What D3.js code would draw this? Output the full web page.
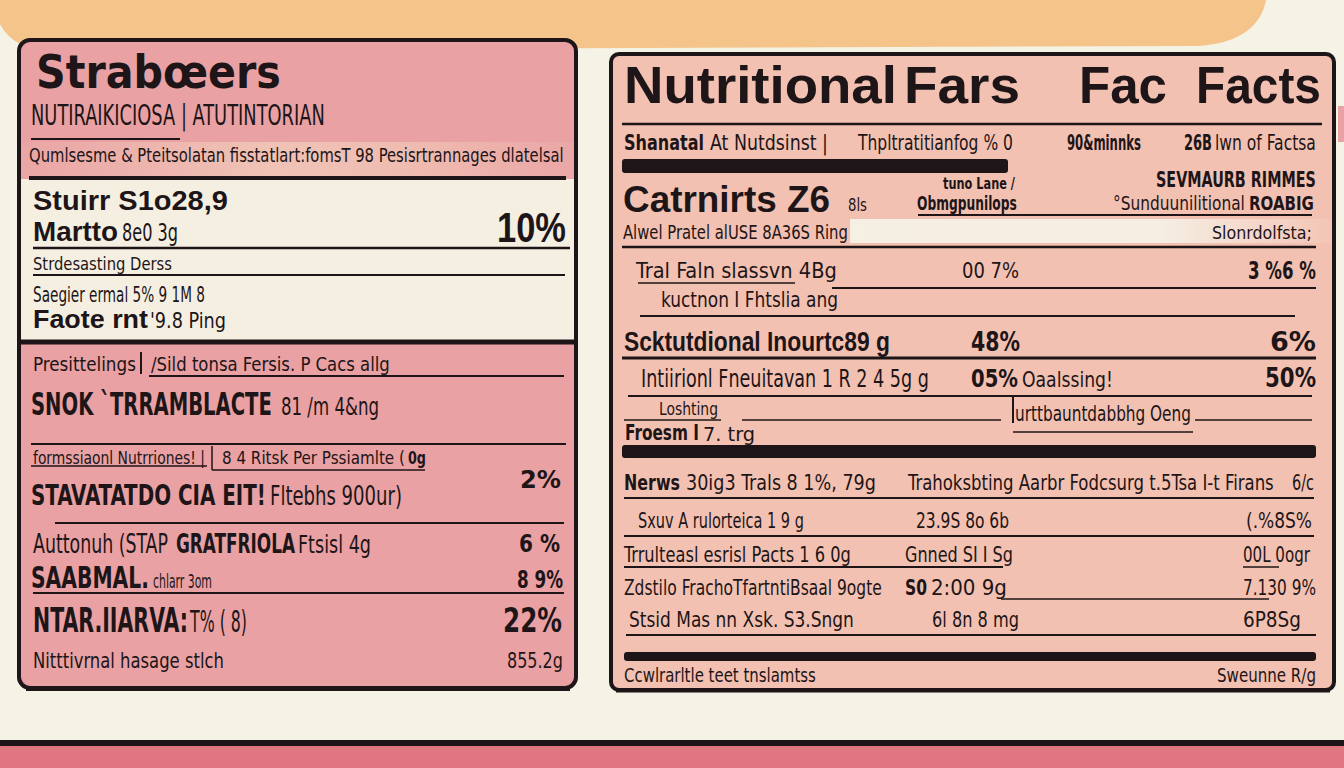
<!DOCTYPE html>
<html>
<head>
<meta charset="utf-8">
<script src="https://cdn.jsdelivr.net/npm/d3@7"></script>
<style>
  html, body { margin: 0; padding: 0; background: #f5f2e6; overflow: hidden; }
</style>
</head>
<body>
<div id="label"></div>
<script>
const width = 1344, height = 768;
const ink = "#1d1517";

// ---- text content (left card) ----
const leftLabels = [
  "Strabœers", "NUTIRAIKICIOSA | ATUTINTORIAN",
  "Qumlsesme & Pteitsolatan fisstatlart:fomsT 98  Pesisrtrannages dlatelsal",
  "Stuirr S1o28,9", "Martto", "8e0 3g", "Strdesasting Derss",
  "Saegier ermal 5% 9 1M 8", "Faote rnt", "'9.8 Ping",
  "Presittelings", "/Sild tonsa Fersis. P Cacs allg",
  "SNOK `TRRAMBLACTE", "81 /m 4&ng",
  "formssiaonl Nutrriones! |", "8 4 Ritsk Per Pssiamlte (", "0g",
  "STAVATATDO CIA EIT!", "Fltebhs  900ur)",
  "Auttonuh (STAP", "GRATFRIOLA", "Ftsisl 4g",
  "SAABMAL.", "chlarr 3om", "NTAR.IIARVA:", "T% ( 8)",
  "Nitttivrnal hasage stlch"
];
const leftValues = ["10%", "2%", "6 %", "8 9%", "22%", "855.2g"];

// ---- text content (right card) ----
const rightHead = ["Nutritional", "Fars", "Fac", "Facts"];
const rightLabels = [
  "Shanatal", "At Nutdsinst |", "Thpltratitianfog % 0", "90&minnks", "26B", "lwn of Factsa",
  "Catrnirts Z6", "8ls", "tuno Lane /", "Obmgpunilops", "SEVMAURB RIMMES",
  "°Sunduunilitional", "ROABIG", "Alwel Pratel alUSE 8A36S Ring", "Slonrdolfsta;",
  "Tral Faln slassvn 4Bg", "kuctnon I Fhtslia ang", "Scktutdional Inourtc89 g",
  "Intiirionl Fneuitavan 1 R 2 4 5g g", "Loshting", "urttbauntdabbhg Oeng",
  "Froesm I", "7. trg", "Nerws", "30ig3 Trals 8 1%, 79g",
  "Trahoksbting Aarbr Fodcsurg t.5Tsa I-t Firans",
  "Sxuv A rulorteica 1 9 g", "Trrulteasl esrisl Pacts 1 6 0g",
  "Zdstilo FrachoTfartntiBsaal 9ogte", "Stsid Mas nn Xsk. S3.Sngn",
  "Ccwlrarltle teet tnslamtss"
];
const rightMid = ["00 7%", "48%", "05%", "Oaalssing!", "23.9S 8o 6b", "Gnned SI I Sg", "S0", "2:00 9g", "6l 8n 8 mg"];
const rightValues = ["3 %6 %", "6%", "50%", "6/c", "(.%8S%", "00L 0ogr", "7.130 9%", "6P8Sg", "Sweunne R/g"];

// ---- layout: [x, baseline, width, font-size, style] ----
const leftLabelPos = [
  [36, 88, 245, 47, "wide"], [31, 125, 294, 28, "n"], [29, 162, 535, 19, "n"],
  [33, 210, 195, 27, "head"], [33, 241, 85, 27, "head"], [122, 241, 56, 24, "n"],
  [33, 270, 139, 18, "n"], [33, 302, 172, 21, "n"], [33, 328, 115, 26, "head"], [150, 328, 76, 22, "n"],
  [33, 371, 103, 20, "n"], [151, 371, 239, 20, "n"],
  [31, 415, 241, 32, "nb"], [281, 415, 98, 24, "n"],
  [33, 464, 172, 17, "n"], [222, 464, 183, 17, "n"], [408, 464, 18, 18, "nb"],
  [31, 505, 235, 29, "nb"], [270, 505, 132, 26, "n"],
  [33, 553, 135, 27, "n"], [176, 553, 119, 27, "nb"], [298, 553, 73, 24, "n"],
  [31, 588, 118, 30, "nb"], [153, 588, 59, 20, "n"], [33, 632, 155, 34, "nb"], [190, 632, 57, 30, "n"],
  [33, 668, 191, 22, "n"]
];
const leftValuePos = [
  [497, 242, 69, 42, "head"], [520, 488, 41, 25, "nb"], [519, 552, 41, 25, "nb"],
  [517, 588, 46, 25, "nb"], [503, 632, 59, 33, "nb"], [507, 668, 56, 22, "n"]
];
const rightHeadPos = [
  [624, 103, 273, 52, "head"], [904, 103, 116, 52, "head"],
  [1079, 103, 88, 52, "head"], [1196, 103, 125, 52, "head"]
];
const rightLabelPos = [
  [624, 150, 80, 21, "nb"], [710, 150, 118, 21, "n"], [858, 150, 155, 21, "n"],
  [1067, 150, 74, 21, "nb"], [1184, 150, 28, 21, "nb"], [1215, 150, 101, 21, "n"],
  [623, 212, 207, 37, "head"], [848, 211, 19, 17, "n"], [943, 189, 72, 15, "nb"],
  [917, 210, 100, 19, "nb"], [1156, 187, 160, 22, "nb"],
  [1113, 210, 132, 20, "n"], [1249, 210, 65, 20, "nb"], [623, 239, 225, 19, "n"], [1212, 239, 100, 17, "n"],
  [636, 278, 201, 22, "n"], [661, 307, 177, 22, "n"], [624, 351, 266, 27, "head"],
  [641, 387, 288, 24, "n"], [659, 415, 59, 17, "n"], [1015, 421, 176, 21, "n"],
  [625, 440, 74, 21, "nb"], [703, 441, 52, 20, "n"], [624, 490, 56, 22, "nb"], [686, 490, 190, 22, "n"],
  [908, 490, 366, 22, "n"],
  [638, 528, 166, 22, "n"], [624, 562, 227, 22, "n"],
  [624, 595, 258, 22, "n"], [629, 627, 225, 22, "n"],
  [624, 682, 192, 20, "n"]
];
const rightMidPos = [
  [962, 278, 57, 22, "n"], [971, 351, 49, 26, "nb"], [971, 387, 47, 25, "nb"], [1022, 387, 91, 22, "n"],
  [916, 528, 93, 22, "n"], [905, 562, 108, 22, "n"], [905, 595, 22, 22, "nb"], [931, 595, 76, 22, "n"],
  [932, 627, 87, 22, "n"]
];
const rightValuePos = [
  [1248, 279, 68, 25, "nb"], [1270, 351, 46, 27, "nb"], [1265, 387, 51, 26, "nb"],
  [1292, 490, 22, 22, "n"], [1246, 528, 66, 22, "n"], [1243, 562, 67, 22, "n"],
  [1243, 595, 73, 22, "n"], [1243, 627, 58, 22, "n"], [1217, 682, 99, 20, "n"]
];

// rules: [x1, x2, y, stroke]
const leftRules = [
  [31, 180, 139, 2], [29, 566, 178, 4], [33, 570, 248, 2.5], [33, 565, 275, 2],
  [17, 576, 342, 5], [149, 564, 376, 2], [31, 566, 444, 2], [31, 207, 466, 1.5],
  [212, 425, 470, 1.5], [55, 564, 523, 2], [33, 564, 593, 2]
];
const leftTicks = [[141, 352, 374, 2], [212, 446, 470, 1.5]];
const rightRules = [
  [622, 1322, 124, 2.5], [918, 1312, 215, 2], [622, 1316, 247, 2.5], [638, 795, 283, 1.5],
  [832, 1316, 288, 2], [640, 1295, 316, 2], [622, 1316, 358, 3], [628, 1312, 396, 2],
  [624, 721, 420, 1.5], [742, 1001, 420, 1.5], [1195, 1312, 420, 1.5], [1013, 1193, 432, 1.5],
  [624, 1314, 498, 2], [624, 1314, 536, 2], [624, 1003, 567, 2], [1243, 1279, 567, 1.5],
  [1001, 1269, 599, 1.5], [626, 1316, 635, 2]
];
const rightTicks = [[1013, 397, 423, 2]];
const rightBars = [[622, 1008, 159, 173], [622, 1316, 445, 458], [624, 1316, 652, 661]];

const fonts = {
  wide: { family: "'DejaVu Sans', Verdana, sans-serif", weight: 700 },
  head: { family: "'Liberation Sans', Arial, sans-serif", weight: 700 },
  nb: { family: "'Liberation Sans Narrow', 'DejaVu Sans Condensed', 'Liberation Sans', sans-serif", weight: 700 },
  n: { family: "'Liberation Sans Narrow', 'DejaVu Sans Condensed', 'Liberation Sans', sans-serif", weight: 400 }
};

const svg = d3.select("#label").append("svg")
  .attr("width", width).attr("height", height)
  .attr("viewBox", [0, 0, width, height]);

const defs = svg.append("defs");
const stripGrad = defs.append("linearGradient").attr("id", "strip");
stripGrad.append("stop").attr("offset", "0%").attr("stop-color", "#eaa5a5");
stripGrad.append("stop").attr("offset", "45%").attr("stop-color", "#f0c3b6");
stripGrad.append("stop").attr("offset", "70%").attr("stop-color", "#efbcb1");
stripGrad.append("stop").attr("offset", "100%").attr("stop-color", "#eaa6a6");
const creamGrad = defs.append("linearGradient").attr("id", "creamstrip");
creamGrad.append("stop").attr("offset", "0%").attr("stop-color", "#f6efe4");
creamGrad.append("stop").attr("offset", "65%").attr("stop-color", "#f6eee3");
creamGrad.append("stop").attr("offset", "100%").attr("stop-color", "#f3c5b6");

// background
svg.append("rect").attr("width", width).attr("height", height).attr("fill", "#f5f2e6");
svg.append("path")
  .attr("d", "M0,0 L1266,0 C1262,22 1244,44 1196,46 L40,50 C20,48 6,36 0,24 Z")
  .attr("fill", "#f4c48b");
svg.append("rect").attr("x", 1338).attr("y", 106).attr("width", 6).attr("height", 36).attr("fill", "#e9a2a3");
svg.append("rect").attr("x", 0).attr("y", 740).attr("width", width).attr("height", 6).attr("fill", ink);
svg.append("rect").attr("x", 0).attr("y", 746).attr("width", width).attr("height", 22).attr("fill", "#df7680");

// ---- left card ----
const left = svg.append("g");
left.append("rect").attr("x", 19).attr("y", 40).attr("width", 557).attr("height", 648)
  .attr("rx", 11).attr("fill", "#e9a1a3");
left.append("rect").attr("x", 19).attr("y", 142).attr("width", 557).attr("height", 36).attr("fill", "url(#strip)");
left.append("rect").attr("x", 19).attr("y", 179).attr("width", 557).attr("height", 162).attr("fill", "#f5efe2");
left.append("rect").attr("x", 19).attr("y", 40).attr("width", 557).attr("height", 648)
  .attr("rx", 11).attr("fill", "none").attr("stroke", ink).attr("stroke-width", 4);
left.append("line").attr("x1", 26).attr("x2", 570).attr("y1", 689).attr("y2", 689)
  .attr("stroke", ink).attr("stroke-width", 4);

// ---- right card ----
const right = svg.append("g");
right.append("rect").attr("x", 611).attr("y", 54).attr("width", 723).attr("height", 636)
  .attr("rx", 8).attr("fill", "#f3c1b1");
right.append("rect").attr("x", 850).attr("y", 219).attr("width", 482).attr("height", 24).attr("fill", "url(#creamstrip)");
right.append("rect").attr("x", 611).attr("y", 54).attr("width", 723).attr("height", 636)
  .attr("rx", 8).attr("fill", "none").attr("stroke", ink).attr("stroke-width", 4);
right.append("line").attr("x1", 616).attr("x2", 1330).attr("y1", 691).attr("y2", 691)
  .attr("stroke", ink).attr("stroke-width", 3);

function drawRules(g, rules, ticks) {
  g.selectAll(null).data(rules).join("line")
    .attr("x1", d => d[0]).attr("x2", d => d[1])
    .attr("y1", d => d[2]).attr("y2", d => d[2])
    .attr("stroke", ink).attr("stroke-width", d => d[3]);
  g.selectAll(null).data(ticks).join("line")
    .attr("x1", d => d[0]).attr("x2", d => d[0])
    .attr("y1", d => d[1]).attr("y2", d => d[2])
    .attr("stroke", ink).attr("stroke-width", d => d[3]);
}

// each text is squeezed/stretched horizontally to the width it has in the label
function drawText(g, labels, pos) {
  g.selectAll(null)
    .data(labels.map((t, i) => ({ t, p: pos[i] })))
    .join("text")
    .attr("font-size", d => d.p[3])
    .attr("font-family", d => fonts[d.p[4]].family)
    .attr("font-weight", d => fonts[d.p[4]].weight)
    .attr("fill", ink)
    .text(d => d.t)
    .attr("transform", function(d) {
      const natural = this.getComputedTextLength() || d.p[2];
      return `translate(${d.p[0]},${d.p[1]}) scale(${d.p[2] / natural},1)`;
    });
}

drawRules(left, leftRules, leftTicks);
drawText(left, leftLabels, leftLabelPos);
drawText(left, leftValues, leftValuePos);

drawRules(right, rightRules, rightTicks);
right.selectAll(null).data(rightBars).join("rect")
  .attr("x", d => d[0]).attr("y", d => d[2])
  .attr("width", d => d[1] - d[0]).attr("height", d => d[3] - d[2])
  .attr("rx", 3).attr("fill", ink);
drawText(right, rightHead, rightHeadPos);
drawText(right, rightLabels, rightLabelPos);
drawText(right, rightMid, rightMidPos);
drawText(right, rightValues, rightValuePos);
</script>
</body>
</html>
